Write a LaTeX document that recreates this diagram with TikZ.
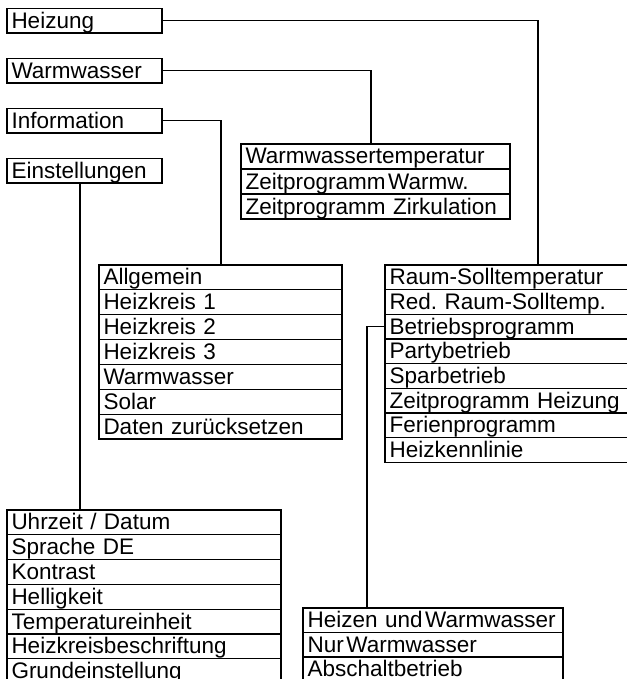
\documentclass[tikz,border=0pt]{standalone}
\usepackage{fontspec}
\setmainfont{Liberation Sans}
\usetikzlibrary{calc}
\frenchspacing
\newcommand{\rowfont}{\fontsize{22.5pt}{24pt}\selectfont}
\newcommand{\tsp}{\hspace{0.12em}}
\tikzset{
  rowbox/.style={draw, line width=1.2pt, anchor=north west, inner xsep=4.5pt, inner ysep=0pt,
    outer sep=0pt, align=left, font=\rowfont, text depth=4pt, text height=19pt},
  conn/.style={line width=1.2pt},
}
\begin{document}
\begin{tikzpicture}[x=1pt,y=-1pt]
\useasboundingbox (0,0) rectangle (626,679);
% top level
\node[rowbox, text width=146pt, minimum height=24.5pt] (heizung) at (7,8.5) {Heizung};
\node[rowbox, text width=146pt, minimum height=24.5pt] (warmwasser) at (7,58.5) {Warmwasser};
\node[rowbox, text width=146pt, minimum height=24.5pt] (information) at (7,108.5) {Information};
\node[rowbox, text width=146pt, minimum height=24.5pt] (einstellungen) at (7,158.5) {Einstellungen};
% Warmwasser group
\node[rowbox, text width=260pt, minimum height=25pt] (ww1) at (241,144) {\mbox{Warmwassertemperatur}};
\node[rowbox, text width=260pt, minimum height=25pt] (ww2) at (241,169) {\mbox{Zeitprogramm\tsp Warmw.}};
\node[rowbox, text width=260pt, minimum height=25pt] (ww3) at (241,194) {\mbox{Zeitprogramm Zirkulation}};
% Information group
\foreach \t [count=\i from 0] in {Allgemein,Heizkreis 1,Heizkreis 2,Heizkreis 3,Warmwasser,Solar,Daten zurücksetzen}{
  \node[rowbox, text width=234pt, minimum height=24.85pt] (inf\i) at (99,265+24.85*\i) {\mbox{\t}};
}
% Heizung group
\foreach \t [count=\i from 0] in {Raum-Solltemperatur,Red. Raum-Solltemp.,Betriebsprogramm,Partybetrieb,Sparbetrieb,Zeitprogramm Heizung,Ferienprogramm,Heizkennlinie}{
  \node[rowbox, text width=240pt, minimum height=24.65pt] (hz\i) at (385,265+24.65*\i) {\mbox{\t}};
}
% Einstellungen group
\foreach \t [count=\i from 0] in {Uhrzeit / Datum,Sprache DE,Kontrast,Helligkeit,Temperatureinheit,Heizkreisbeschriftung,Grundeinstellung}{
  \node[rowbox, text width=265pt, minimum height=24.8pt] (es\i) at (7,510+24.8*\i) {\mbox{\t}};
}
% Betriebsprogramm group
\foreach \t [count=\i from 0] in {Heizen und\tsp Warmwasser,Nur\tsp Warmwasser,Abschaltbetrieb}{
  \node[rowbox, text width=251pt, minimum height=24.5pt] (bp\i) at (303,608+24.5*\i) {\mbox{\t}};
}
% connector columns
\coordinate (cH) at (538,0);
\coordinate (cW) at (371,0);
\coordinate (cI) at (221,0);
\coordinate (cE) at (80,0);
\coordinate (cB) at (367,0);
\draw[conn] (heizung.east) -| (hz0.north -| cH);
\draw[conn] (warmwasser.east) -| (ww1.north -| cW);
\draw[conn] (information.east) -| (inf0.north -| cI);
\draw[conn] (einstellungen.south -| cE) -- (es0.north -| cE);
\draw[conn] (hz2.west) -| (bp0.north -| cB);
\end{tikzpicture}
\end{document}
